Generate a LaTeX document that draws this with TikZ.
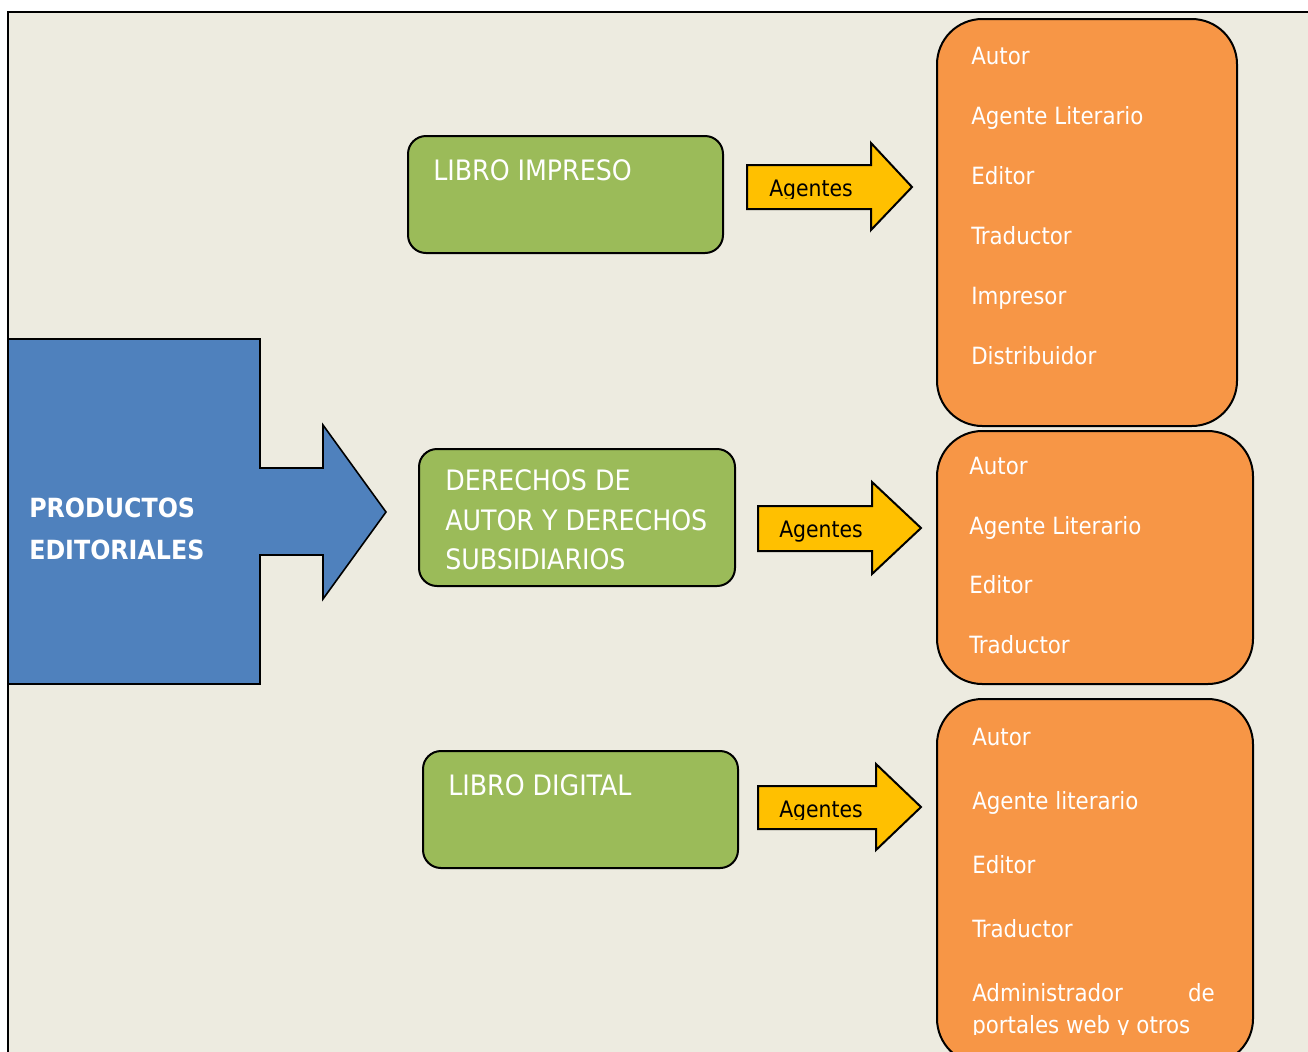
\documentclass[tikz,border=0pt]{standalone}
\usepackage{fontspec}
\setmainfont{DejaVu Sans Condensed}
\definecolor{bgtan}{HTML}{EDEBE0}
\definecolor{blueP}{HTML}{4F81BD}
\definecolor{greenP}{HTML}{9BBB59}
\definecolor{orangeP}{HTML}{F79646}
\definecolor{yellowP}{HTML}{FFC000}
\tikzset{
  greenbox/.style={draw=black, line width=1.5pt, fill=greenP, rounded corners=13.5pt},
  orangebox/.style={draw=black, line width=1.5pt, fill=orangeP, rounded corners=34pt},
  yarrow/.style={draw=black, line width=1.5pt, fill=yellowP},
  barrow/.style={draw=black, line width=1.2pt, fill=blueP},
  gtext/.style={anchor=base west, inner sep=0pt, text=white, font=\fontsize{21.1}{26}\selectfont},
  otext/.style={anchor=base west, inner sep=0pt, text=white, font=\fontsize{17.8}{20}\selectfont},
  atext/.style={anchor=base west, inner sep=0pt, text=black, font=\fontsize{17}{20}\selectfont},
  btext/.style={anchor=base west, inner sep=0pt, text=white, font=\bfseries\fontsize{19.8}{24}\selectfont},
}
\begin{document}
\begin{tikzpicture}[x=0.75pt,y=-0.75pt]
\useasboundingbox (0,0) rectangle (1308,1051);
\clip (0,0) rectangle (1308,1051);
\fill[white] (0,0) rectangle (1308,1051);
% frame
\draw[fill=bgtan, line width=1.8pt] (8,12) rectangle (1330,1080);
% blue arrow
\draw[barrow] (8,339) -- (260,339) -- (260,468) -- (323,468) -- (323,425) -- (386,512)
  -- (323,599) -- (323,555) -- (260,555) -- (260,684) -- (8,684) -- cycle;
\node[btext] (p1) at (29,517) {PRODUCTOS};
\node[btext] (p2) at (29,559) {EDITORIALES};
% green boxes
\node[greenbox, minimum width=315*0.75pt, minimum height=117*0.75pt, anchor=north west] (g1) at (407,135) {};
\node[gtext] (g1t) at (433,180) {LIBRO IMPRESO};
\node[greenbox, minimum width=316*0.75pt, minimum height=137*0.75pt, anchor=north west] (g2) at (418,448) {};
\node[gtext] (g2a) at (445,490) {DERECHOS DE};
\node[gtext] (g2b) at (445,530) {AUTOR Y DERECHOS};
\node[gtext] (g2c) at (445,569) {SUBSIDIARIOS};
\node[greenbox, minimum width=315*0.75pt, minimum height=117*0.75pt, anchor=north west] (g3) at (422,750) {};
\node[gtext] (g3t) at (448,795) {LIBRO DIGITAL};
% yellow arrows
\draw[yarrow] (747,165) -- (871,165) -- (871,143) -- (912,187) -- (871,230) -- (871,209) -- (747,209) -- cycle;
\begin{scope}
  \clip (740,150) rectangle (870,198);
  \node[atext] (a1) at (769,196) {Agentes};
\end{scope}
\draw[yarrow] (758,506) -- (872,506) -- (872,482) -- (921,528) -- (872,574) -- (872,551) -- (758,551) -- cycle;
\node[atext] (a2) at (779,537) {Agentes};
\draw[yarrow] (758,786) -- (876,786) -- (876,764) -- (921,807) -- (876,850) -- (876,829) -- (758,829) -- cycle;
\begin{scope}
  \clip (750,770) rectangle (875,819);
  \node[atext] (a3) at (779,817) {Agentes};
\end{scope}
% orange boxes
\node[orangebox, minimum width=300*0.75pt, minimum height=407*0.75pt, anchor=north west] (o1) at (936,18) {};
\node[otext] (o1a) at (971,64) {Autor};
\node[otext] (o1b) at (971,124) {Agente Literario};
\node[otext] (o1c) at (971,184) {Editor};
\node[otext] (o1d) at (971,244) {Traductor};
\node[otext] (o1e) at (971,304) {Impresor};
\node[otext] (o1f) at (971,364) {Distribuidor};
\node[orangebox, minimum width=316*0.75pt, minimum height=253*0.75pt, anchor=north west] (o2) at (936,430) {};
\node[otext] (o2a) at (969,474) {Autor};
\node[otext] (o2b) at (969,534) {Agente Literario};
\node[otext] (o2c) at (969,593) {Editor};
\node[otext] (o2d) at (969,653) {Traductor};
\node[orangebox, minimum width=316*0.75pt, minimum height=365*0.75pt, anchor=north west] (o3) at (936,698) {};
\node[otext] (o3a) at (972,745) {Autor};
\node[otext] (o3b) at (972,809) {Agente literario};
\node[otext] (o3c) at (972,873) {Editor};
\node[otext] (o3d) at (972,937) {Traductor};
\node[otext] (o3e) at (972,1001) {Administrador};
\node[otext, anchor=base east] (o3f) at (1215,1001) {de};
\begin{scope}
  \clip (960,1010) rectangle (1240,1034);
  \node[otext] (o3g) at (972,1033) {portales web y otros};
\end{scope}
\end{tikzpicture}
\end{document}
